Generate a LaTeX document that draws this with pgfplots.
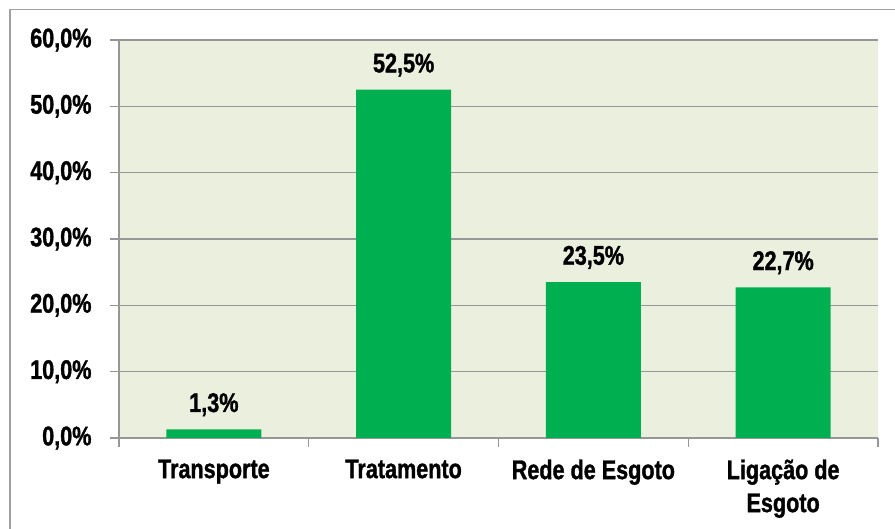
\documentclass[border=0pt]{standalone}
\usepackage{fontspec}
\setmainfont{Liberation Sans}[FakeStretch=0.8, BoldFeatures={FakeBold=1.2}]
\usepackage{pgfplots}
\pgfplotsset{compat=1.18}
\definecolor{bg}{RGB}{235,239,222}
\definecolor{barc}{RGB}{0,176,80}
\definecolor{gridc}{RGB}{150,150,150}
\newcommand{\lbl}{\bfseries\fontsize{27}{33}\selectfont}
\begin{document}
\begin{tikzpicture}[x=1pt,y=1pt]
\path[use as bounding box] (-119,-91) rectangle (776,438);
\draw[color=gridc!90, line width=1.4pt] (-109,-110) rectangle (800,428.5);
\begin{axis}[at={(0,0)}, anchor=south west, scale only axis,
  width=759pt, height=398pt,
  xmin=-0.5, xmax=3.5, ymin=0, ymax=60,
  axis background/.style={fill=bg},
  axis x line*=bottom, axis y line*=left,
  axis line style={gridc, line width=1.5pt, -},
  ymajorgrids, grid style={gridc, line width=1.5pt},
  ytick={0,10,...,60},
  tick align=outside, major tick length=9pt,
  ytick style={gridc, line width=1.5pt},
  xtick={0,1,2,3},
  xtick style={draw=none},
  xticklabels={Transporte, Tratamento, Rede de Esgoto, {Ligação de\\Esgoto}},
  xticklabel style={font=\lbl, align=center, yshift=-9pt},
  extra x ticks={-0.5,0.5,1.5,2.5,3.5},
  extra x tick labels={},
  extra x tick style={grid=none, xtick style={draw=gridc, line width=1.5pt}, major tick length=9pt},
  /pgf/number format/assume math mode=true,
  yticklabel={\pgfmathprintnumber[fixed,fixed zerofill,precision=1,use comma]{\tick}\%},
  yticklabel style={font=\lbl, xshift=-15pt},
  ybar, bar width=95pt,
  nodes near coords={\pgfmathprintnumber[fixed,fixed zerofill,precision=1,use comma]{\pgfplotspointmeta}\%},
  nodes near coords style={font=\lbl, anchor=south, inner sep=0pt, yshift=13pt, text=black},
]
\addplot[fill=barc, draw=none] coordinates {(0,1.3) (1,52.5) (2,23.5) (3,22.7)};
\end{axis}
\end{tikzpicture}
\end{document}
